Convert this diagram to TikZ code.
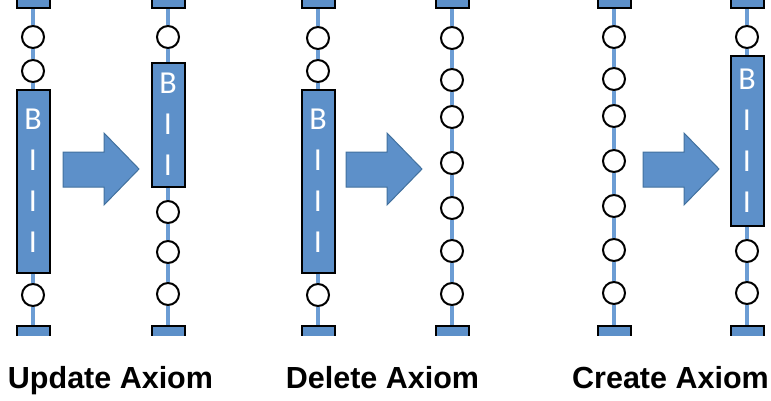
\documentclass[tikz,border=0pt]{standalone}
\usepackage{fontspec}
\setmainfont{Liberation Sans}
\newfontfamily\blkfont{Carlito}
\usetikzlibrary{calc}

\definecolor{boxblue}{RGB}{93,144,201}
\definecolor{linkblue}{RGB}{108,157,212}
\definecolor{arrowedge}{RGB}{66,113,158}

\begin{document}
\begin{tikzpicture}[x=1pt,y=-1pt,
blk/.style ={rectangle, draw=black, line width=2pt, fill=boxblue, text=white, minimum width=33pt, inner sep=0pt, align=center, font=\blkfont\fontsize{32}{41}\selectfont},
stub/.style={rectangle, draw=black, line width=2pt, fill=boxblue, minimum width=33pt, minimum height=20pt, inner sep=0pt},
atom/.style={circle, draw=black, line width=2pt, fill=white, minimum size=22pt, inner sep=0pt},
link/.style={draw=linkblue, line width=4pt},
bigarrow/.style={fill=boxblue, draw=arrowedge, line width=1pt, line join=miter},
lbl/.style={anchor=base, font=\bfseries\fontsize{30.5}{36}\selectfont}]

\useasboundingbox (0,0) rectangle (771,400);

\begin{scope}
\clip (0,0) rectangle (771,335);

% Update Axiom
\draw (33,-2) node[stub] (UaT) {};
\draw (33,37) node[atom] (Ua1) {};
\draw (33,71) node[atom] (Ua2) {};
\draw (33,181) node[blk, minimum height=183pt] (UaB) {B\\I\\I\\I};
\draw (33,295) node[atom] (Ua3) {};
\draw (33,336) node[stub] (UaE) {};

\draw (168,-2) node[stub] (UbT) {};
\draw (168,37) node[atom] (Ub1) {};
\draw (168,124.5) node[blk, minimum height=124pt] (UbB) {B\\I\\I};
\draw (168,212) node[atom] (Ub2) {};
\draw (168,252) node[atom] (Ub3) {};
\draw (168,294) node[atom] (Ub4) {};
\draw (168,336) node[stub] (UbE) {};

% Delete Axiom
\draw (318,-2) node[stub] (DaT) {};
\draw (318,38) node[atom] (Da1) {};
\draw (318,71) node[atom] (Da2) {};
\draw (318,181) node[blk, minimum height=183pt] (DaB) {B\\I\\I\\I};
\draw (318,295) node[atom] (Da3) {};
\draw (318,336) node[stub] (DaE) {};

\draw (452,-2) node[stub] (DbT) {};
\draw (452,38) node[atom] (Db1) {};
\draw (452,80) node[atom] (Db2) {};
\draw (452,117) node[atom] (Db3) {};
\draw (452,163) node[atom] (Db4) {};
\draw (452,208) node[atom] (Db5) {};
\draw (452,251) node[atom] (Db6) {};
\draw (452,294) node[atom] (Db7) {};
\draw (452,336) node[stub] (DbE) {};

% Create Axiom
\draw (614,-2) node[stub] (CaT) {};
\draw (614,37) node[atom] (Ca1) {};
\draw (614,79) node[atom] (Ca2) {};
\draw (614,116) node[atom] (Ca3) {};
\draw (614,161) node[atom] (Ca4) {};
\draw (614,206) node[atom] (Ca5) {};
\draw (614,250) node[atom] (Ca6) {};
\draw (614,293) node[atom] (Ca7) {};
\draw (614,336) node[stub] (CaE) {};

\draw (747,-2) node[stub] (CbT) {};
\draw (747,37) node[atom] (Cb1) {};
\draw (747,140.5) node[blk, minimum height=170pt] (CbB) {B\\I\\I\\I};
\draw (747,251) node[atom] (Cb2) {};
\draw (747,293) node[atom] (Cb3) {};
\draw (747,336) node[stub] (CbE) {};

\draw[link] (UaT)--(Ua1)--(Ua2)--(UaB)--(Ua3)--(UaE);
\draw[link] (UbT)--(Ub1)--(UbB)--(Ub2)--(Ub3)--(Ub4)--(UbE);
\draw[link] (DaT)--(Da1)--(Da2)--(DaB)--(Da3)--(DaE);
\draw[link] (DbT)--(Db1)--(Db2)--(Db3)--(Db4)--(Db5)--(Db6)--(Db7)--(DbE);
\draw[link] (CaT)--(Ca1)--(Ca2)--(Ca3)--(Ca4)--(Ca5)--(Ca6)--(Ca7)--(CaE);
\draw[link] (CbT)--(Cb1)--(CbB)--(Cb2)--(Cb3)--(CbE);
\end{scope}

% arrows
\foreach \xa in {63,346,643}
  \draw[bigarrow] (\xa,152) -- ++(41,0) -- ++(0,-19) -- ++(35,36) -- ++(-35,36) -- ++(0,-18) -- ++(-41,0) -- cycle;

\draw (110.5,388) node[lbl] (Lu) {Update Axiom};
\draw (382.5,388) node[lbl] (Ld) {Delete Axiom};
\draw (670.5,388) node[lbl] (Lc) {Create Axiom};

\end{tikzpicture}
\end{document}
